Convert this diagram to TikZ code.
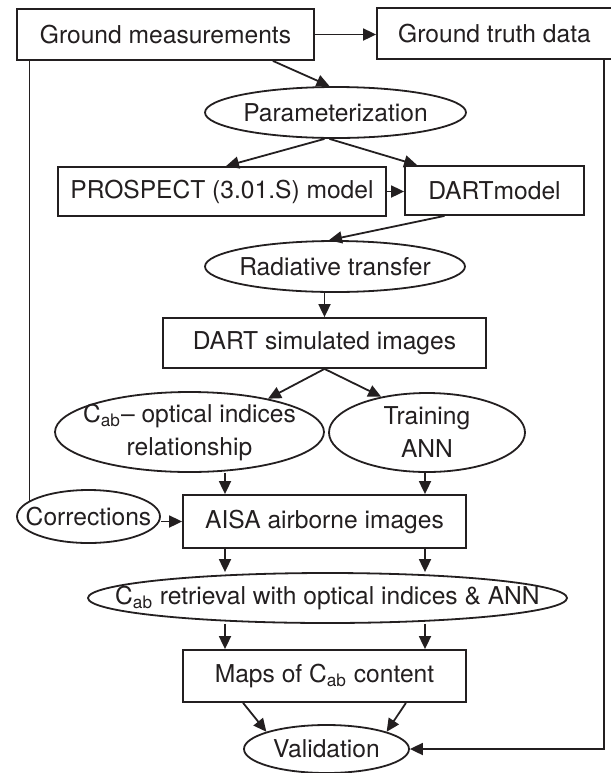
\documentclass[tikz,border=0pt]{standalone}
\usepackage{fontspec}
\setmainfont{TeX Gyre Heros}
\usetikzlibrary{shapes.geometric,arrows.meta,calc}
\definecolor{ink}{RGB}{35,31,32}

\begin{document}
\begin{tikzpicture}[x=0.5pt,y=-0.5pt,
  every node/.style={font=\fontsize{12.3}{16.5}\selectfont, text=ink},
  box/.style={draw=ink, line width=0.9pt, rectangle, inner sep=0pt, align=center},
  oval/.style={draw=ink, line width=0.9pt, ellipse, inner sep=0pt},
  arr/.style={draw=ink, line width=0.9pt, -{Triangle[length=6.5pt,width=6pt]}},
  link/.style={draw=ink, line width=0.9pt}]
\useasboundingbox (0,0) rectangle (611,773);

% columns of the straight arrows and of the feedback line
\coordinate (lc) at (225,0);
\coordinate (rc) at (425,0);
\coordinate (rx) at (604,0);

% ellipses are sized by hand, their text sits in a centred label
\node[box, minimum width=148.5pt, minimum height=25.5pt] (gm) at (165.5,34.5) {Ground measurements};
\node[box, minimum width=117.5pt, minimum height=25.5pt] (gt) at (494.5,33.5) {Ground truth data};
\node[oval, minimum width=130.5pt, minimum height=25.5pt,
  label={center:Parameterization}] (param) at (335.5,112.5) {};
\node[box, minimum width=164pt, minimum height=24.5pt] (prospect) at (222,191.5) {PROSPECT (3.01.S) model};
\node[box, minimum width=89.5pt, minimum height=24.5pt] (dart) at (494.5,190.5) {DARTmodel};
\node[oval, minimum width=130pt, minimum height=25.5pt,
  label={center:Radiative transfer}] (rad) at (335,266.5) {};
\node[box, minimum width=161.5pt, minimum height=25pt] (sim) at (324.5,343) {DART simulated images};
\node[oval, minimum width=134.5pt, minimum height=40pt,
  label={[align=center]center:{C\textsubscript{ab}-- optical indices\\relationship}}] (rel) at (189.5,432) {};
\node[oval, minimum width=98pt, minimum height=39.5pt,
  label={[align=center]center:{Training\\ANN}}] (ann) at (427,432.5) {};
\node[box, minimum width=141.5pt, minimum height=26.5pt] (aisa) at (324.5,521.5) {AISA airborne images};
\node[oval, minimum width=71.5pt, minimum height=26.5pt,
  label={center:Corrections}] (corr) at (88.5,516.5) {};
\node[oval, minimum width=239.5pt, minimum height=25pt,
  label={center:{C\textsubscript{ab} retrieval with optical indices \& ANN}}] (ret) at (327.5,598) {};
\node[box, minimum width=141.5pt, minimum height=26pt] (maps) at (324.5,676) {Maps of C\textsubscript{ab} content};
\node[oval, minimum width=82.5pt, minimum height=24pt,
  label={center:Validation}] (val) at (326.5,749) {};

\draw[arr] (gm.east) -- (gm.east -| gt.west);
\draw[arr] ($(gm.south east)+(-42,0)$) -- ($(param.north)+(-6,0)$);
\draw[arr] ($(param.south)+(-11,0)$) -- ($(prospect.north)+(4,0)$);
\draw[arr] ($(param.south)+(-6,0)$) -- ($(dart.north west)+(13,0)$);
\draw[arr] (prospect.east) -- (prospect.east -| dart.west);
\draw[arr] ($(dart.south)+(-50,0)$) -- ($(rad.north)+(-6,0)$);
\draw[arr] (rad.south -| sim.north) -- (sim.north);
\draw[arr] (sim.south) -- (rel.23);
\draw[arr] (sim.south) -- (ann.142);
\draw[arr] (rel.south -| lc) -- (aisa.north -| lc);
\draw[arr] (ann.south -| rc) -- (aisa.north -| rc);
\draw[arr] (aisa.west -| corr.east) -- (aisa.west);
\draw[arr] (aisa.south -| lc) -- (ret.north -| lc);
\draw[arr] (aisa.south -| rc) -- (ret.north -| rc);
\draw[arr] (ret.south -| lc) -- (maps.north -| lc);
\draw[arr] (ret.south -| rc) -- (maps.north -| rc);
\draw[arr] ($(maps.south west)+(61,0)$) -- (val.164);
\draw[arr] ($(maps.south east)+(-61,0)$) -- (val.16);

% measurements feed the corrections, truth data the validation
\draw[link] (gm.south -| corr.165) -- (corr.165);
\draw[arr] (gt.south -| rx) |- (val.east);
\end{tikzpicture}
\end{document}
